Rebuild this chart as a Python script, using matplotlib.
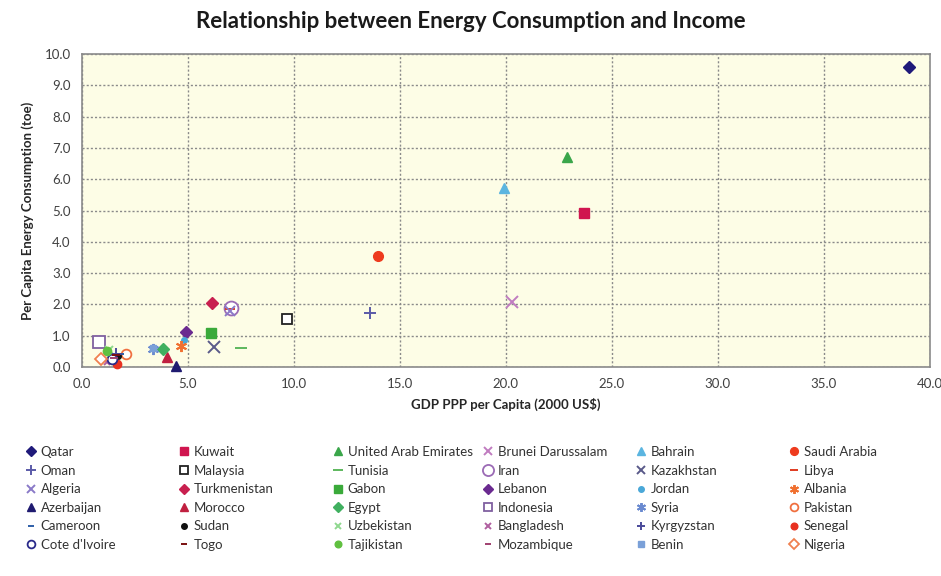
import matplotlib
matplotlib.use("Agg")
import matplotlib.pyplot as plt
from matplotlib.lines import Line2D

plt.rcParams['font.family'] = ['Lato', 'DejaVu Sans']

# country order as in the source workbook
countries = ["Qatar", "Kuwait", "United Arab Emirates", "Brunei Darussalam", "Bahrain", "Saudi Arabia",
             "Oman", "Malaysia", "Tunisia", "Iran", "Kazakhstan", "Libya",
             "Algeria", "Turkmenistan", "Gabon", "Lebanon", "Jordan", "Albania",
             "Azerbaijan", "Morocco", "Egypt", "Indonesia", "Syria", "Pakistan",
             "Cameroon", "Sudan", "Uzbekistan", "Bangladesh", "Kyrgyzstan", "Senegal",
             "Cote d'Ivoire", "Togo", "Tajikistan", "Mozambique", "Benin", "Nigeria"]

# GDP PPP per capita (2000 US$, thousands)
gdp = [39.0, 23.7, 22.9, 20.3, 19.9, 13.95,
       13.6, 9.7, 7.5, 7.05, 6.25, 7.0,
       7.0, 6.15, 6.1, 4.9, 4.8, 4.7,
       4.45, 4.0, 3.85, 0.8, 3.35, 2.1,
       1.8, 1.7, 1.3, 1.2, 1.6, 1.65,
       1.4, 1.6, 1.2, 1.5, 3.35, 0.9]

# per capita energy consumption (toe)
energy = [9.6, 4.92, 6.72, 2.07, 5.72, 3.55,
          1.73, 1.52, 0.62, 1.88, 0.64, 1.85,
          1.78, 2.05, 1.08, 1.12, 0.86, 0.67,
          0.03, 0.33, 0.57, 0.8, 0.58, 0.42,
          0.4, 0.35, 0.55, 0.15, 0.42, 0.08,
          0.24, 0.38, 0.5, 0.3, 0.6, 0.25]

# marker, colour, filled, size
styles = [("D", "#1f1a7a", True, 6), ("s", "#d0154f", True, 7), ("^", "#3aa64a", True, 7),
          ("x", "#c07cc0", True, 8), ("^", "#5bb5e0", True, 7), ("o", "#ee3b1e", True, 7),
          ("+", "#5a5aa8", True, 9), ("s", "#222222", False, 7), ("_", "#5db85d", True, 9),
          ("o", "#9b6bb5", False, 10), ("x", "#5a5a8a", True, 8), ("_", "#e03a20", True, 7),
          ("x", "#8a7ac8", True, 7), ("D", "#c8204f", True, 6), ("s", "#3aaa3a", True, 7),
          ("D", "#6a2a90", True, 6), ("o", "#4aa8d8", True, 4), ((6, 2, 0), "#f07030", True, 8),
          ("^", "#1f1a70", True, 7), ("^", "#c02040", True, 7), ("D", "#40b060", True, 6),
          ("s", "#8060a0", False, 8), ((6, 2, 0), "#6a8ad0", True, 8), ("o", "#f07040", False, 7),
          ("_", "#2e5fa8", True, 6), ("o", "#111111", True, 4), ("x", "#90d890", True, 6),
          ("x", "#b060a0", True, 5), ("+", "#4a4a9a", True, 8), ("o", "#e83020", True, 6),
          ("o", "#2a2a8a", False, 7), ("_", "#7a1010", True, 6), ("o", "#60c040", True, 6),
          ("_", "#a04070", True, 6), ("s", "#7aa0d8", True, 4), ("D", "#f08050", False, 6)]

fig = plt.figure(figsize=(9.41, 5.76), dpi=100)
ax = fig.add_axes([0.087, 0.363, 0.901, 0.543])
ax.set_facecolor("#fdfde6")

handles = []
for name, x, y, (m, c, filled, ms) in zip(countries, gdp, energy, styles):
    kw = dict(marker=m, color=c, markersize=ms, linestyle="none", label=name)
    if m in ("x", "+", "_") or isinstance(m, tuple):
        kw["markeredgewidth"] = 1.4
    elif filled:
        kw["markerfacecolor"] = c
        kw["markeredgecolor"] = c
    else:
        kw["markerfacecolor"] = "white"
        kw["markeredgecolor"] = c
        kw["markeredgewidth"] = 1.3
    ax.plot([x], [y], clip_on=False, zorder=3, **kw)
    lk = dict(kw)
    lk["markersize"] = max(ms * 0.8, 4)
    handles.append(Line2D([], [], **lk))

ax.set_xlim(0, 40)
ax.set_ylim(0, 10)
ax.set_xticks([i * 5 for i in range(9)])
ax.set_yticks(range(11))
ax.xaxis.set_major_formatter(lambda v, p: f"{v:.1f}")
ax.yaxis.set_major_formatter(lambda v, p: f"{v:.1f}")
ax.tick_params(length=0, labelsize=9.5, labelcolor="#404040", pad=8)
ax.grid(True, color="#8a8a8a", linestyle=(0, (1.5, 1.5)), linewidth=1)
ax.set_axisbelow(True)
for s in ax.spines.values():
    s.set_color("#8a8a8a")
    s.set_linewidth(1.2)

ax.set_xlabel("GDP PPP per Capita (2000 US$)", fontsize=9.5, fontweight="bold", color="#262626", labelpad=6)
ax.set_ylabel("Per Capita Energy Consumption (toe)", fontsize=9.5, fontweight="bold", color="#262626", labelpad=8)
fig.text(0.5, 0.962, "Relationship between Energy Consumption and Income", ha="center", va="center",
         fontsize=16, fontweight="bold", color="#1a1a1a")

# legend laid out row by row in six evenly spaced columns
col_x = [26, 179, 333, 483, 636, 789]
for c in range(6):
    col = [handles[r * 6 + c] for r in range(6)]
    leg = fig.legend(handles=col, loc="upper left", bbox_to_anchor=(col_x[c] / 941, 1 - 446 / 576),
                     frameon=False, fontsize=9.5, handlelength=0.8, handletextpad=0.3,
                     labelspacing=0.5, borderpad=0, borderaxespad=0)
    for t in leg.get_texts():
        t.set_color("#333333")

fig.savefig("out.png", dpi=100)
